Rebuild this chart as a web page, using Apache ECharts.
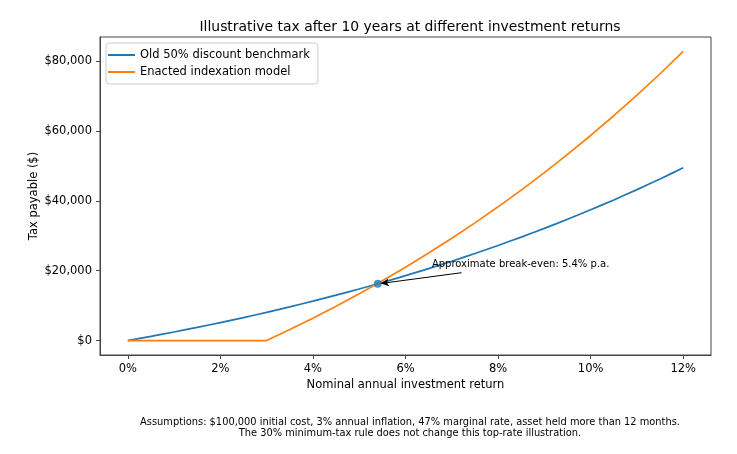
<!DOCTYPE html>
<html>
<head>
<meta charset="utf-8">
<script src="https://cdn.jsdelivr.net/npm/echarts@6/dist/echarts.min.js"></script>
<style>
  html, body { margin: 0; padding: 0; background: #fff; }
  #main { width: 737px; height: 454px; }
</style>
</head>
<body>
<div id="main"></div>
<script>
// nominal return (%) at each sample
const returns = [0, 0.5, 1, 1.5, 2, 2.5, 3, 3.5, 4, 4.5, 5, 5.5, 6, 6.5, 7, 7.5, 8, 8.5, 9, 9.5, 10, 10.5, 11, 11.5, 12];
// tax payable ($)
const oldDiscount = [0, 1202, 2459, 3773, 5146, 6582, 8082, 9649, 11286, 12995, 14779, 16641, 18585, 20613, 22728, 24934, 27235, 29633, 32133, 34738, 37453, 40281, 43226, 46294, 49487];
const indexation = [0, 0, 0, 0, 0, 0, 0, 3134, 6407, 9825, 13394, 17118, 21006, 25061, 29292, 33704, 38305, 43102, 48102, 53313, 58742, 64398, 70289, 76423, 82811];
const breakEven = [5.4, 16269];
const xTicks = [0, 2, 4, 6, 8, 10, 12];
const yTicks = [0, 20000, 40000, 60000, 80000];

const font = 'DejaVu Sans';
const chart = echarts.init(document.getElementById('main'));

const pair = (ys) => returns.map((x, i) => [x, ys[i]]);

const option = {
    animation: false,
    textStyle: { fontFamily: font },
    title: [{
        text: 'Illustrative tax after 10 years at different investment returns',
        left: 405, top: 15, textAlign: 'center',
        textStyle: { fontFamily: font, fontSize: 13.9, fontWeight: 'normal', color: '#000' }
    }, {
        text: 'Assumptions: $100,000 initial cost, 3% annual inflation, 47% marginal rate, asset held more than 12 months.\nThe 30% minimum-tax rule does not change this top-rate illustration.',
        left: 405, top: 411.5, textAlign: 'center',
        textStyle: { fontFamily: font, fontSize: 9.85, fontWeight: 'normal', color: '#000', lineHeight: 11.6, align: 'center' }
    }],
    legend: {
        left: 106, top: 43, orient: 'vertical',
        data: ['Old 50% discount benchmark', 'Enacted indexation model'],
        itemWidth: 27, itemHeight: 2, itemGap: 5,
        icon: 'rect',
        padding: [6, 8, 6, 2],
        backgroundColor: 'rgba(255,255,255,0.8)',
        borderColor: '#ccc', borderWidth: 1, borderRadius: 3,
        textStyle: { fontFamily: font, fontSize: 11.5, color: '#000' }
    },
    grid: { left: 100, right: 26, top: 37, bottom: 99, show: true, borderColor: '#444', borderWidth: 1, backgroundColor: 'transparent' },
    xAxis: {
        type: 'value', min: -0.6, max: 12.6,
        name: 'Nominal annual investment return', nameLocation: 'middle', nameGap: 24, nameMoveOverlap: false,
        nameTextStyle: { fontFamily: font, fontSize: 11.5, color: '#000' },
        axisLine: { show: true, onZero: false, lineStyle: { color: '#444', width: 1 } },
        splitLine: { show: false },
        axisTick: { show: true, length: 4, lineStyle: { color: '#444', width: 1 }, customValues: xTicks },
        axisLabel: { fontFamily: font, fontSize: 11.5, color: '#000', margin: 8.5, customValues: xTicks, formatter: (v) => v + '%' }
    },
    yAxis: {
        type: 'value', min: -4140, max: 86950,
        name: 'Tax payable ($)', nameLocation: 'middle', nameGap: 60, nameRotate: 90, nameMoveOverlap: false,
        nameTextStyle: { fontFamily: font, fontSize: 11.5, color: '#000' },
        axisLine: { show: true, onZero: false, lineStyle: { color: '#444', width: 1 } },
        splitLine: { show: false },
        axisTick: { show: true, length: 4, lineStyle: { color: '#444', width: 1 }, customValues: yTicks },
        axisLabel: { fontFamily: font, fontSize: 11.5, color: '#000', margin: 8, customValues: yTicks,
            formatter: (v) => '$' + v.toLocaleString('en-US') }
    },
    series: [{
        name: 'Old 50% discount benchmark',
        type: 'line', data: pair(oldDiscount), showSymbol: false, symbol: 'none', smooth: 0.2,
        lineStyle: { color: '#1f77b4', width: 1.7 }, itemStyle: { color: '#1f77b4' }, z: 2
    }, {
        name: 'Enacted indexation model',
        type: 'line', data: pair(indexation), showSymbol: false, symbol: 'none',
        lineStyle: { color: '#ff7f0e', width: 1.7 }, itemStyle: { color: '#ff7f0e' }, z: 3
    }, {
        name: 'break-even',
        type: 'scatter', data: [breakEven], symbolSize: 8,
        itemStyle: { color: '#1f77b4' }, z: 5,
        markLine: {
            silent: true, symbol: ['none', 'arrow'], symbolSize: [6, 8],
            lineStyle: { color: '#000', width: 1, type: 'solid' },
            label: { show: false },
            data: [[{ coord: [7.21, 19430] }, { coord: [5.47, 16350] }]]
        },
        markPoint: {
            silent: true, symbol: 'circle', symbolSize: 0,
            label: { show: true, position: 'right', distance: 0, color: '#000', fontFamily: font, fontSize: 10,
                formatter: 'Approximate break-even: 5.4% p.a.' },
            data: [{ coord: [6.57, 21700] }]
        }
    }]
};
chart.setOption(option);
</script>
</body>
</html>
